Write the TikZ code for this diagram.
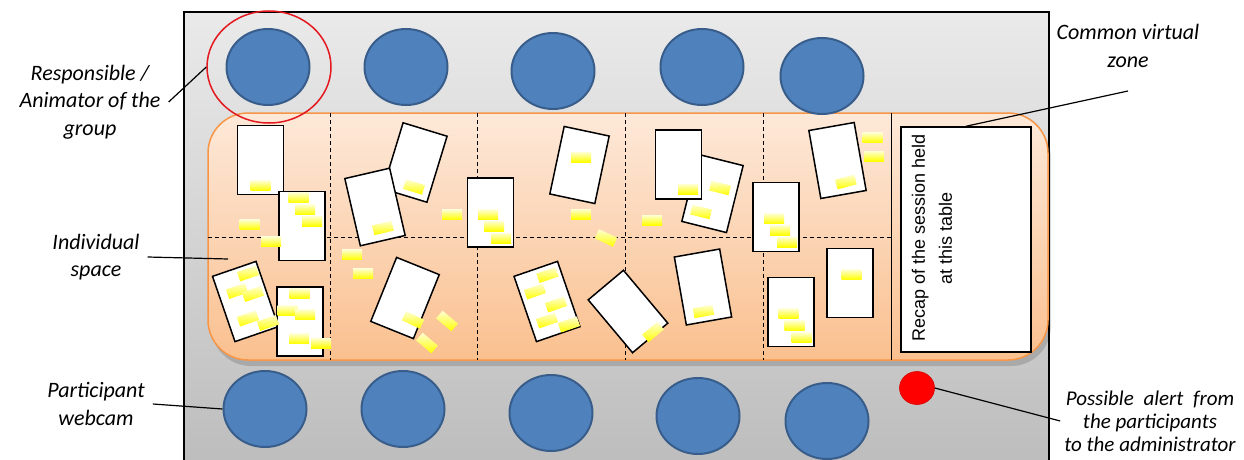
\documentclass[tikz,border=0pt]{standalone}
\usepackage{fontspec}
\setmainfont{Carlito}
\newfontfamily\recapfont{Liberation Sans}
\usetikzlibrary{positioning}
\usetikzlibrary{shapes.geometric}
\definecolor{seatblue}{HTML}{4F81BD}
\definecolor{seatedge}{HTML}{385D8A}
\definecolor{tabletop}{HTML}{FDE9D9}
\definecolor{tablebot}{HTML}{FAC08F}
\definecolor{tableedge}{HTML}{F79646}
\definecolor{paneltop}{HTML}{EAEAEA}
\definecolor{panelbot}{HTML}{BDBDBD}
\definecolor{ringred}{HTML}{E3191F}
\definecolor{notetop}{HTML}{FFFFD2}
\definecolor{notebot}{HTML}{FFFF00}
\tikzset{
  seat/.style={ellipse,draw=seatedge,line width=2pt,fill=seatblue,
    minimum width=83pt,minimum height=76pt,inner sep=0pt},
  card/.style={draw,line width=1.5pt,fill=white,minimum width=46pt,
    minimum height=69pt,inner sep=0pt},
  sticky/.style={top color=notetop,bottom color=notebot,minimum width=20pt,
    minimum height=10pt,inner sep=0pt},
  lbl/.style={font=\fontsize{22}{27.5}\selectfont\itshape,align=center,inner xsep=8pt},
  divider/.style={dash pattern=on 4pt off 3pt,line width=0.9pt}
}

\begin{document}
\begin{tikzpicture}[x=1pt,y=-1pt]
		\useasboundingbox (0,0) rectangle (1244,460);
		\draw[line width=1.2pt,top color=paneltop,bottom color=panelbot] (184,12) rectangle (1049,463);
		% table
		\fill[black,opacity=0.15,rounded corners=40pt] (211,118) rectangle (1051,366);
		\draw[draw=tableedge,line width=1.5pt,top color=tabletop,bottom color=tablebot,rounded corners=40pt] (208,113) rectangle (1048,360);
		\foreach \x in {330,477,625,763}
			\draw[divider] (\x,113) -- (\x,360);
		\draw[divider] (208,237) -- (891,237);
		\draw[line width=0.9pt] (891,113) -- (891,360);
		% seats
		\foreach \x/\y [count=\i] in {268/67,406/67,553/71,702/67,822/76}
			\node[seat] (top\i) at (\x,\y) {};
		\foreach \x/\y [count=\i] in {265/409,403/409,551/413,698/416,827/421}
			\node[seat] (bot\i) at (\x,\y) {};
		\node[ellipse,draw=ringred,line width=1.5pt,minimum width=124pt,minimum height=112pt] (ring) at (269,67) {};
		\node[ellipse,fill=red,draw=red!85!black,line width=0.6pt,minimum width=35pt,minimum height=33pt,inner sep=0pt] (alert) at (917,388) {};
		% cards and notes
		\foreach \x/\y/\a [count=\i] in {260.5/160/0,302/226/0,415/162.5/-17,375/207/13,490.5/212.5/0,
			579.5/165/-12,712.5/193.5/-14,678.5/164.5/0,776/217/0,837.5/160.5/10,
			245.5/301.5/19,300/321.5/0,405/298/-22,547/301.5/19,628/311.5/40,
			703/287/10,791/312/0,850/283/0}
			\node[card,rotate=\a] (card\i) at (\x,\y) {};
		\foreach \x/\y/\a [count=\i] in {260.5/185.5/0,298.5/197.5/0,305/209.5/0,312/221/0,249.5/224.5/0,
			271/241.5/0,383/228/13,414/187/-17,488/214.5/0,494/226/0,501/238/0,452/214.5/0,
			581/157/0,581/214/0,606/238/-25,652/220/0,688/189/0,720/188/-14,701/212/-14,
			774/218.5/0,780/230/0,787/242/0,846/182/15,872.5/137.5/0,874/156/0,
			248/273.5/19,237/291/19,253/294/19,248/318.5/19,268/323/19,
			299.5/293.5/0,287.5/310.5/0,305/314.5/0,299/338.5/0,321/343/0,352/254.5/0,363/273.5/0,
			413/320/-25,427/343/-40,447/321/-40,
			547.5/275/19,535/291.5/19,556/304.5/19,547/320.5/19,569/324.5/19,
			653/332/40,703.5/311.5/10,788.5/313.5/0,794.5/325.5/0,801.5/337.5/0,851.5/274.5/0}
			\node[sticky,rotate=\a] (note\i) at (\x,\y) {};
		% common zone
		\node[draw,line width=1.5pt,fill=white,minimum width=130pt,minimum height=225pt,inner sep=0pt] (recap) at (966,239.5) {};
		\node[rotate=90,align=center,font=\recapfont\fontsize{18}{27}\selectfont] (recaptext) at (932,238) {Recap of the session held\\at this table};
		% labels
		\node[lbl] (lblresp) at (90,102) {Responsible /\\Animator of the\\group};
		\node[lbl] (lblspace) at (96,257) {Individual\\space};
		\node[lbl] (lblcam) at (96,404) {Participant\\webcam};
		\node[lbl] (lblzone) at (1128,46) {Common virtual\\zone};
		\node[lbl,font=\fontsize{21}{23}\selectfont\itshape,inner xsep=4pt] (lblalert) at (1150,421) {Possible\hspace{5pt} alert\hspace{5pt} from\\the participants\\to the administrator};
		\coordinate (spacept) at (228,259);
		\coordinate[below=20pt of lblzone] (zonept);
		\draw[line width=1.2pt] (lblresp.east) -- (ring.west);
		\draw[line width=1.2pt] (lblspace.east) -- (spacept);
		\draw[line width=1.2pt] (lblcam.east) -- (bot1.west);
		\draw[line width=1.2pt] (zonept) -- (recap.north);
		\draw[line width=1.2pt] (alert.east) -- (lblalert.west);
\end{tikzpicture}
\end{document}
